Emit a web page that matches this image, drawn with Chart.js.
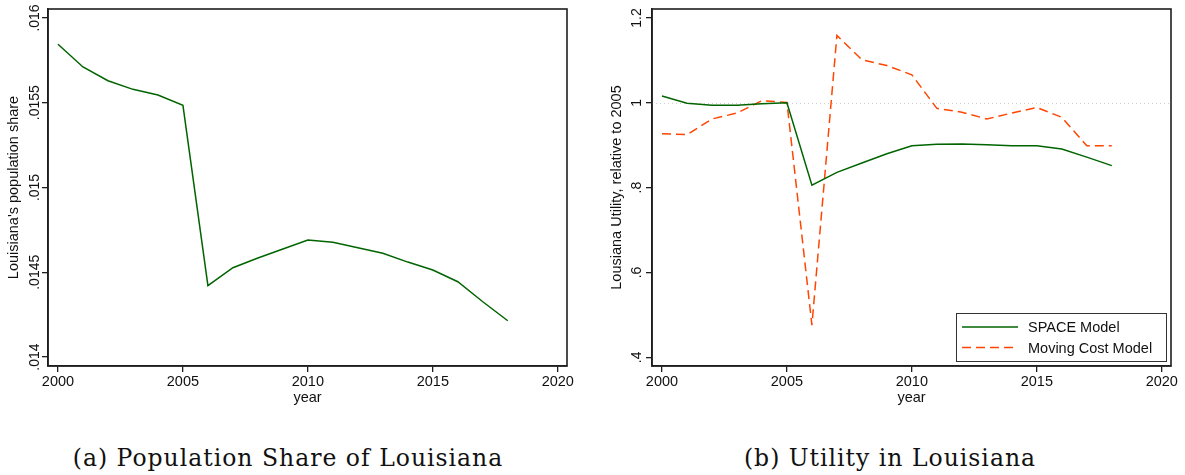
<!DOCTYPE html>
<html>
<head>
<meta charset="utf-8">
<script src="https://cdn.jsdelivr.net/npm/chart.js@4.4.0/dist/chart.umd.min.js"></script>
<style>
  html, body { margin: 0; padding: 0; background: #fff; }
  body { width: 1185px; height: 475px; position: relative; overflow: hidden; }
  canvas { position: absolute; top: 0; }
  #chart-share   { left: 0; }
  #chart-utility { left: 592px; }
  .caption {
    position: absolute; top: 447px; line-height: 23px;
    font-family: "DejaVu Serif", serif; font-size: 23.5px; color: #111;
    letter-spacing: 1px;
    white-space: nowrap; transform: translateX(-50%);
  }
</style>
</head>
<body>
<canvas id="chart-share" width="592" height="410"></canvas>
<canvas id="chart-utility" width="593" height="410"></canvas>
<div class="caption" style="left:288px">(a) Population Share of Louisiana</div>
<div class="caption" style="left:890px">(b) Utility in Louisiana</div>

<script>
/* ─── data ─────────────────────────────────────────────── */
const years = [2000, 2001, 2002, 2003, 2004, 2005, 2006, 2007, 2008, 2009,
               2010, 2011, 2012, 2013, 2014, 2015, 2016, 2017, 2018];

const popShare = [0.015845, 0.015711, 0.01563, 0.015579, 0.015546, 0.015485,
                  0.014421, 0.014527, 0.014584, 0.014637, 0.01469, 0.014677,
                  0.014645, 0.014612, 0.01456, 0.014513, 0.014444, 0.014326, 0.014214];

const spaceModel = [1.016, 0.999, 0.9945, 0.9945, 0.998, 1.0, 0.806, 0.836, 0.858, 0.880,
                    0.899, 0.9025, 0.903, 0.901, 0.899, 0.899, 0.891, 0.872, 0.852];

const movingCost = [0.927, 0.925, 0.962, 0.976, 1.005, 1.001, 0.476, 1.159, 1.1015, 1.088,
                    1.066, 0.987, 0.978, 0.962, 0.976, 0.989, 0.966, 0.899, 0.899];

const xTicks        = [2000, 2005, 2010, 2015, 2020];
const shareTicks    = [0.014, 0.0145, 0.015, 0.0155, 0.016];
const shareLabels   = ['.014', '.0145', '.015', '.0155', '.016'];
const utilityTicks  = [0.4, 0.6, 0.8, 1, 1.2];
const utilityLabels = ['.4', '.6', '.8', '1', '1.2'];
const utilityRef    = 1;

const SANS = '"Liberation Sans", Arial, Helvetica, sans-serif';
const INK  = '#111';
const AXIS = '#1e1e1e';

Chart.defaults.font.family = SANS;
Chart.defaults.color = INK;

/* ─── Stata-ish decorations: frame, rotated y labels, ref line, legend ── */
const stataLook = {
  id: 'stataLook',
  beforeDatasetsDraw(chart, args, opts) {
    if (opts.refLine == null) return;
    const { ctx, chartArea: a, scales } = chart;
    const py = Math.round(scales.y.getPixelForValue(opts.refLine)) + 0.5;
    ctx.save();
    ctx.strokeStyle = '#cfcfcf';
    ctx.lineWidth = 1;
    ctx.setLineDash([1, 3]);
    ctx.beginPath();
    ctx.moveTo(a.left, py);
    ctx.lineTo(a.right, py);
    ctx.stroke();
    ctx.restore();
  },
  afterDraw(chart, args, opts) {
    const { ctx, chartArea: a, scales } = chart;
    ctx.save();

    ctx.strokeStyle = AXIS;
    ctx.lineWidth = 1.6;
    ctx.strokeRect(a.left, a.top, a.right - a.left, a.bottom - a.top);

    ctx.fillStyle = INK;
    ctx.font = '14px ' + SANS;
    ctx.textAlign = 'center';
    ctx.textBaseline = 'alphabetic';
    opts.yTicks.forEach((v, i) => {
      ctx.save();
      ctx.translate(a.left - opts.labelGap, scales.y.getPixelForValue(v));
      ctx.rotate(-Math.PI / 2);
      ctx.fillText(opts.yLabels[i], 0, 0);
      ctx.restore();
    });

    if (opts.legend) {
      const w = 210, h = 48;
      const bx = a.right - 5 - w, by = a.bottom - 5 - h;
      ctx.fillStyle = '#fff';
      ctx.fillRect(bx, by, w, h);
      ctx.strokeStyle = '#333';
      ctx.lineWidth = 1;
      ctx.strokeRect(bx + 0.5, by + 0.5, w, h);
      ctx.font = '14.5px ' + SANS;
      ctx.textAlign = 'left';
      ctx.textBaseline = 'middle';
      chart.data.datasets.forEach((ds, i) => {
        const ry = by + 14 + i * 20.5;
        ctx.strokeStyle = ds.borderColor;
        ctx.lineWidth = ds.borderWidth;
        ctx.setLineDash(ds.borderDash || []);
        ctx.beginPath();
        ctx.moveTo(bx + 6, ry);
        ctx.lineTo(bx + 62, ry);
        ctx.stroke();
        ctx.setLineDash([]);
        ctx.fillStyle = INK;
        ctx.fillText(ds.label, bx + 72, ry + 1);
      });
    }
    ctx.restore();
  },
};

function xScale() {
  return {
    type: 'linear',
    min: 1999.6,
    max: 2020.37,
    afterBuildTicks: s => { s.ticks = xTicks.map(v => ({ value: v })); },
    afterFit: s => { s.height = 44; },
    ticks: { callback: v => String(v), font: { size: 14.5 }, color: INK, padding: 1, maxRotation: 0 },
    grid: { drawOnChartArea: false, drawTicks: true, tickLength: 6, color: AXIS, lineWidth: 1.3 },
    border: { display: true, color: AXIS, width: 1.6 },
    title: { display: true, text: 'year', font: { size: 14.5 }, color: INK, padding: { top: 0, bottom: 3 } },
  };
}

function yScale(min, max, ticks, width, title, titlePad) {
  return {
    type: 'linear',
    min, max,
    afterBuildTicks: s => { s.ticks = ticks.map(v => ({ value: v })); },
    afterFit: s => { s.width = width; },
    ticks: { display: false },
    grid: { drawOnChartArea: false, drawTicks: true, tickLength: 6, color: AXIS, lineWidth: 1.3 },
    border: { display: true, color: AXIS, width: 1.6 },
    title: { display: true, text: title, font: { size: 14.5 }, color: INK, padding: { top: titlePad, bottom: 0 } },
  };
}

const pts = vals => years.map((yr, i) => ({ x: yr, y: vals[i] }));

const baseOptions = {
  responsive: false,
  animation: false,
  events: [],
  elements: { point: { radius: 0 }, line: { tension: 0 } },
};

new Chart(document.getElementById('chart-share'), {
  type: 'line',
  data: {
    datasets: [{
      label: "Louisiana's population share",
      data: pts(popShare),
      borderColor: '#006400',
      borderWidth: 1.5,
      fill: false,
    }],
  },
  options: {
    ...baseOptions,
    layout: { padding: { top: 9, right: 25, bottom: 0, left: 0 } },
    plugins: {
      legend: { display: false },
      tooltip: { enabled: false },
      stataLook: { yTicks: shareTicks, yLabels: shareLabels, labelGap: 9, legend: false, refLine: null },
    },
    scales: {
      x: xScale(),
      y: yScale(0.013947, 0.016053, shareTicks, 48, "Louisiana's population share", 5),
    },
  },
  plugins: [stataLook],
});

new Chart(document.getElementById('chart-utility'), {
  type: 'line',
  data: {
    datasets: [{
      label: 'SPACE Model',
      data: pts(spaceModel),
      borderColor: '#006400',
      borderWidth: 1.5,
      fill: false,
    }, {
      label: 'Moving Cost Model',
      data: pts(movingCost),
      borderColor: '#ff4500',
      borderWidth: 1.5,
      borderDash: [9, 5],
      fill: false,
    }],
  },
  options: {
    ...baseOptions,
    layout: { padding: { top: 9, right: 14, bottom: 0, left: 0 } },
    plugins: {
      legend: { display: false },
      tooltip: { enabled: false },
      stataLook: { yTicks: utilityTicks, yLabels: utilityLabels, labelGap: 11, legend: true, refLine: utilityRef },
    },
    scales: {
      x: xScale(),
      y: yScale(0.3795, 1.2213, utilityTicks, 60, 'Lousiana Utility, relative to 2005', 16),
    },
  },
  plugins: [stataLook],
});
</script>
</body>
</html>
